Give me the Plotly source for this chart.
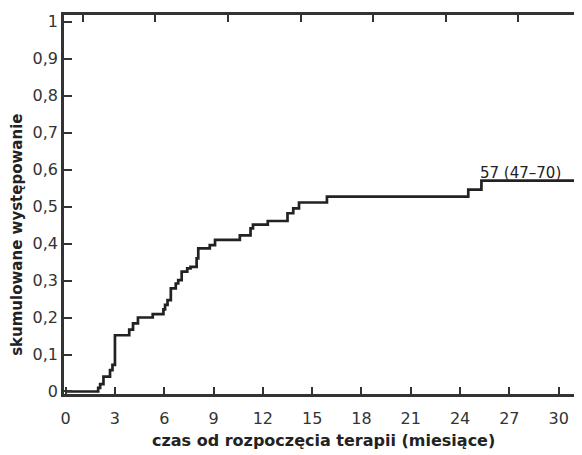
import plotly.graph_objects as go

# Cumulative incidence step curve (months, proportion)
months = [0, 1.98, 2.1, 2.3, 2.7, 2.85, 3.0, 3.87, 4.1, 4.4, 5.3, 5.95, 6.05, 6.2, 6.4,
          6.7, 6.85, 7.06, 7.4, 7.6, 7.97, 8.07, 8.77, 9.09, 10.6, 11.25, 11.4, 12.3,
          13.5, 13.85, 14.2, 15.9, 24.5, 25.3, 31.6]
incidence = [0, 0.01, 0.02, 0.04, 0.058, 0.072, 0.152, 0.167, 0.184, 0.2, 0.209, 0.222,
             0.234, 0.247, 0.279, 0.292, 0.301, 0.324, 0.333, 0.337, 0.36, 0.387, 0.396,
             0.41, 0.422, 0.441, 0.451, 0.461, 0.482, 0.495, 0.511, 0.527, 0.546, 0.57, 0.57]

x_ticks = [0, 3, 6, 9, 12, 15, 18, 21, 24, 27, 30]
y_ticks = [0, 0.1, 0.2, 0.3, 0.4, 0.5, 0.6, 0.7, 0.8, 0.9, 1]
y_tick_labels = ["0", "0,1", "0,2", "0,3", "0,4", "0,5", "0,6", "0,7", "0,8", "0,9", "1"]

final_label = "57 (47–70)"
x_title = "czas od rozpoczęcia terapii (miesiące)"
y_title = "skumulowane występowanie"

FONT = "DejaVu Sans"
AX = "#333333"

fig = go.Figure()
fig.add_trace(go.Scatter(
    x=months, y=incidence, mode="lines", line=dict(shape="hv", color="#222222", width=2.7),
    showlegend=False, hoverinfo="skip"))
# empty trace so the top (mirror) axis is drawn
fig.add_trace(go.Scatter(x=[None], y=[None], xaxis="x2", yaxis="y", mode="lines",
                         showlegend=False, hoverinfo="skip"))

fig.add_annotation(x=25.3, y=0.57, xref="x", yref="y", text=final_label, showarrow=False,
                   xanchor="left", yanchor="bottom", yshift=-3, xshift=-3,
                   font=dict(family=FONT, size=15, color="#222222"))
fig.add_annotation(x=0.5, y=-0.122, xref="paper", yref="paper", text="<b>" + x_title + "</b>",
                   showarrow=False, xanchor="center", yanchor="middle",
                   font=dict(family=FONT, size=16, color="#222222"))
fig.add_annotation(x=-0.0907, y=0.42, xref="paper", yref="paper", text="<b>" + y_title + "</b>",
                   showarrow=False, textangle=-90, xanchor="center", yanchor="middle",
                   font=dict(family=FONT, size=15, color="#222222"))

# page body has an 8px default margin: figure is sized/offset to compensate
fig.update_layout(
    width=574, height=447,
    margin=dict(l=56, r=0, t=7, b=61),
    paper_bgcolor="white", plot_bgcolor="white",
    font=dict(family=FONT, size=16, color=AX),
    xaxis=dict(range=[-0.1, 31.42], tickvals=x_ticks, ticktext=[str(v) for v in x_ticks],
               showgrid=False, zeroline=False, showline=True, linecolor=AX, linewidth=2.5,
               ticks="inside", ticklen=7, tickwidth=2, tickcolor=AX, automargin=False,
               ticklabelstandoff=8, tickfont=dict(family=FONT, size=16, color=AX)),
    xaxis2=dict(overlaying="x", side="top", range=[0, 518], tick0=18.7, dtick=72.6,
                tickmode="linear", showticklabels=False, showgrid=False, zeroline=False,
                showline=True, linecolor=AX, linewidth=2.5, ticks="inside", ticklen=7,
                tickwidth=2, tickcolor=AX, automargin=False),
    yaxis=dict(range=[-0.0068, 1.018], tickvals=y_ticks, ticktext=y_tick_labels,
               showgrid=False, zeroline=False, showline=True, linecolor=AX, linewidth=2.5,
               ticks="inside", ticklen=8, tickwidth=2, tickcolor=AX, automargin=False,
               tickfont=dict(family=FONT, size=16, color=AX)),
)

fig.write_html("out.html")
